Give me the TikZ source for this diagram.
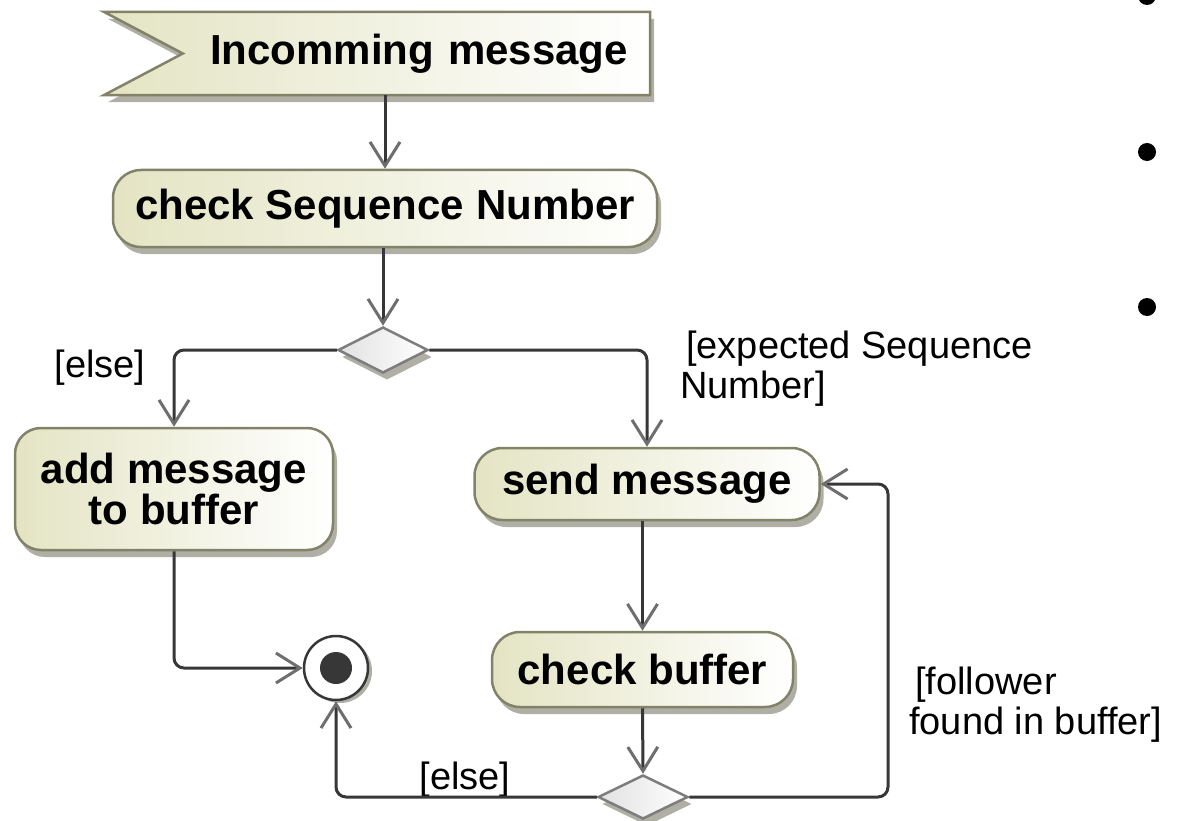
\documentclass[tikz,border=0pt]{standalone}
\usepackage{fontspec}
\setmainfont{Liberation Sans}
\usetikzlibrary{arrows.meta,shapes.geometric,shadows,calc}
\definecolor{boxc}{RGB}{130,130,105}
\definecolor{fillL}{RGB}{228,228,196}
\definecolor{linec}{RGB}{55,55,55}
\definecolor{tipc}{RGB}{110,110,110}
\definecolor{diac}{RGB}{125,125,125}
\definecolor{diaf}{RGB}{225,225,225}
\definecolor{shadc}{RGB}{175,175,165}
\pgfdeclarelayer{bg}
\pgfsetlayers{bg,main}
\begin{document}
\begin{tikzpicture}[x=1pt,y=-1pt,
  shad/.style={drop shadow={shadow xshift=4pt,shadow yshift=-7pt,fill=shadc,opacity=1}},
  act/.style={draw=boxc, line width=2.5pt, rounded corners=28pt, left color=fillL, right color=white,
    shad, font=\fontsize{42}{38}\selectfont\bfseries, inner sep=0pt, align=center},
  sigshape/.style={draw=boxc, line width=2.5pt, left color=fillL, right color=white, shad},
  dec/.style={diamond, draw=diac, line width=2.5pt, left color=diaf, right color=white, shad,
    minimum width=90pt, minimum height=46pt, inner sep=0pt},
  final/.style={circle, draw=linec, line width=2.5pt, fill=white, minimum size=64pt, inner sep=0pt,
    drop shadow={shadow xshift=4pt,shadow yshift=-3pt,fill=shadc,opacity=1},
    path picture={\fill[linec] (path picture bounding box.center) circle (16pt);}},
  line/.style={draw=linec, line width=3pt, rounded corners=10pt},
  arr/.style={line, -{Straight Barb[length=24pt,width=30pt,line width=3pt,color=tipc]}},
  lab/.style={font=\fontsize{38}{40}\selectfont, inner sep=0pt, align=left},
  bullet/.style={circle, fill=black, minimum size=18pt, inner sep=0pt}
]
\useasboundingbox (0,0) rectangle (1185,821);

% nodes
\node[font=\fontsize{42}{44}\selectfont\bfseries, minimum width=546pt, minimum height=83pt,
  inner xsep=22pt, inner ysep=0pt, text width=502pt, align=right] (sig) at (377,53.5) {Incomming message};
\begin{pgfonlayer}{bg}
\path[sigshape] (sig.north west) -- (sig.north east) -- (sig.south east) -- (sig.south west)
  -- ($(sig.west)+(79,0)$) -- cycle;
\end{pgfonlayer}

\node[act, minimum width=544pt, minimum height=77pt] (csn) at (385,208.5) {check Sequence Number};
\node[dec] (d1) at (383,350) {};
\node[act, minimum width=318pt, minimum height=122pt, rounded corners=26pt] (add) at (174,489) {add message\\to buffer};
\node[act, minimum width=345pt, minimum height=72pt] (send) at (647,484) {send message};
\node[act, minimum width=301pt, minimum height=75pt] (cb) at (642.5,669.5) {check buffer};
\node[dec, minimum height=44pt] (d2) at (643,797) {};
\node[final] (fin) at (336,668) {};
\coordinate (loop) at (888,797);

% labels
\node[lab] (l1) at (100,368) {[else]};
\node[lab, anchor=north west] (l2) at (680,331) {\hspace{6pt}[expected Sequence\\Number]};
\node[lab, anchor=north west] (l3) at (909,667) {\hspace{6pt}[follower\\found in buffer]};
\node[lab] (l4) at (465,780) {[else]};

% bullets
\node[bullet] (b1) at (1147,-4) {};
\node[bullet] (b2) at (1147,152) {};
\node[bullet] (b3) at (1147,307) {};

% connectors
\draw[arr] (csn.north |- sig.south) -- (csn.north);
\draw[arr] (d1.north |- csn.south) -- (d1.north);
\draw[arr] (d1.west) -| (add.north);
\draw[arr] (d1.east) -| (send.north);
\draw[arr] (cb.north |- send.south) -- (cb.north);
\draw[arr] (cb.south) -- (d2.north);
\draw[arr] (d2.east) -- (loop) |- (send.east);
\draw[arr] (d2.west) -| (fin.south);
\draw[arr] (add.south) |- (fin.west);
\end{tikzpicture}
\end{document}
